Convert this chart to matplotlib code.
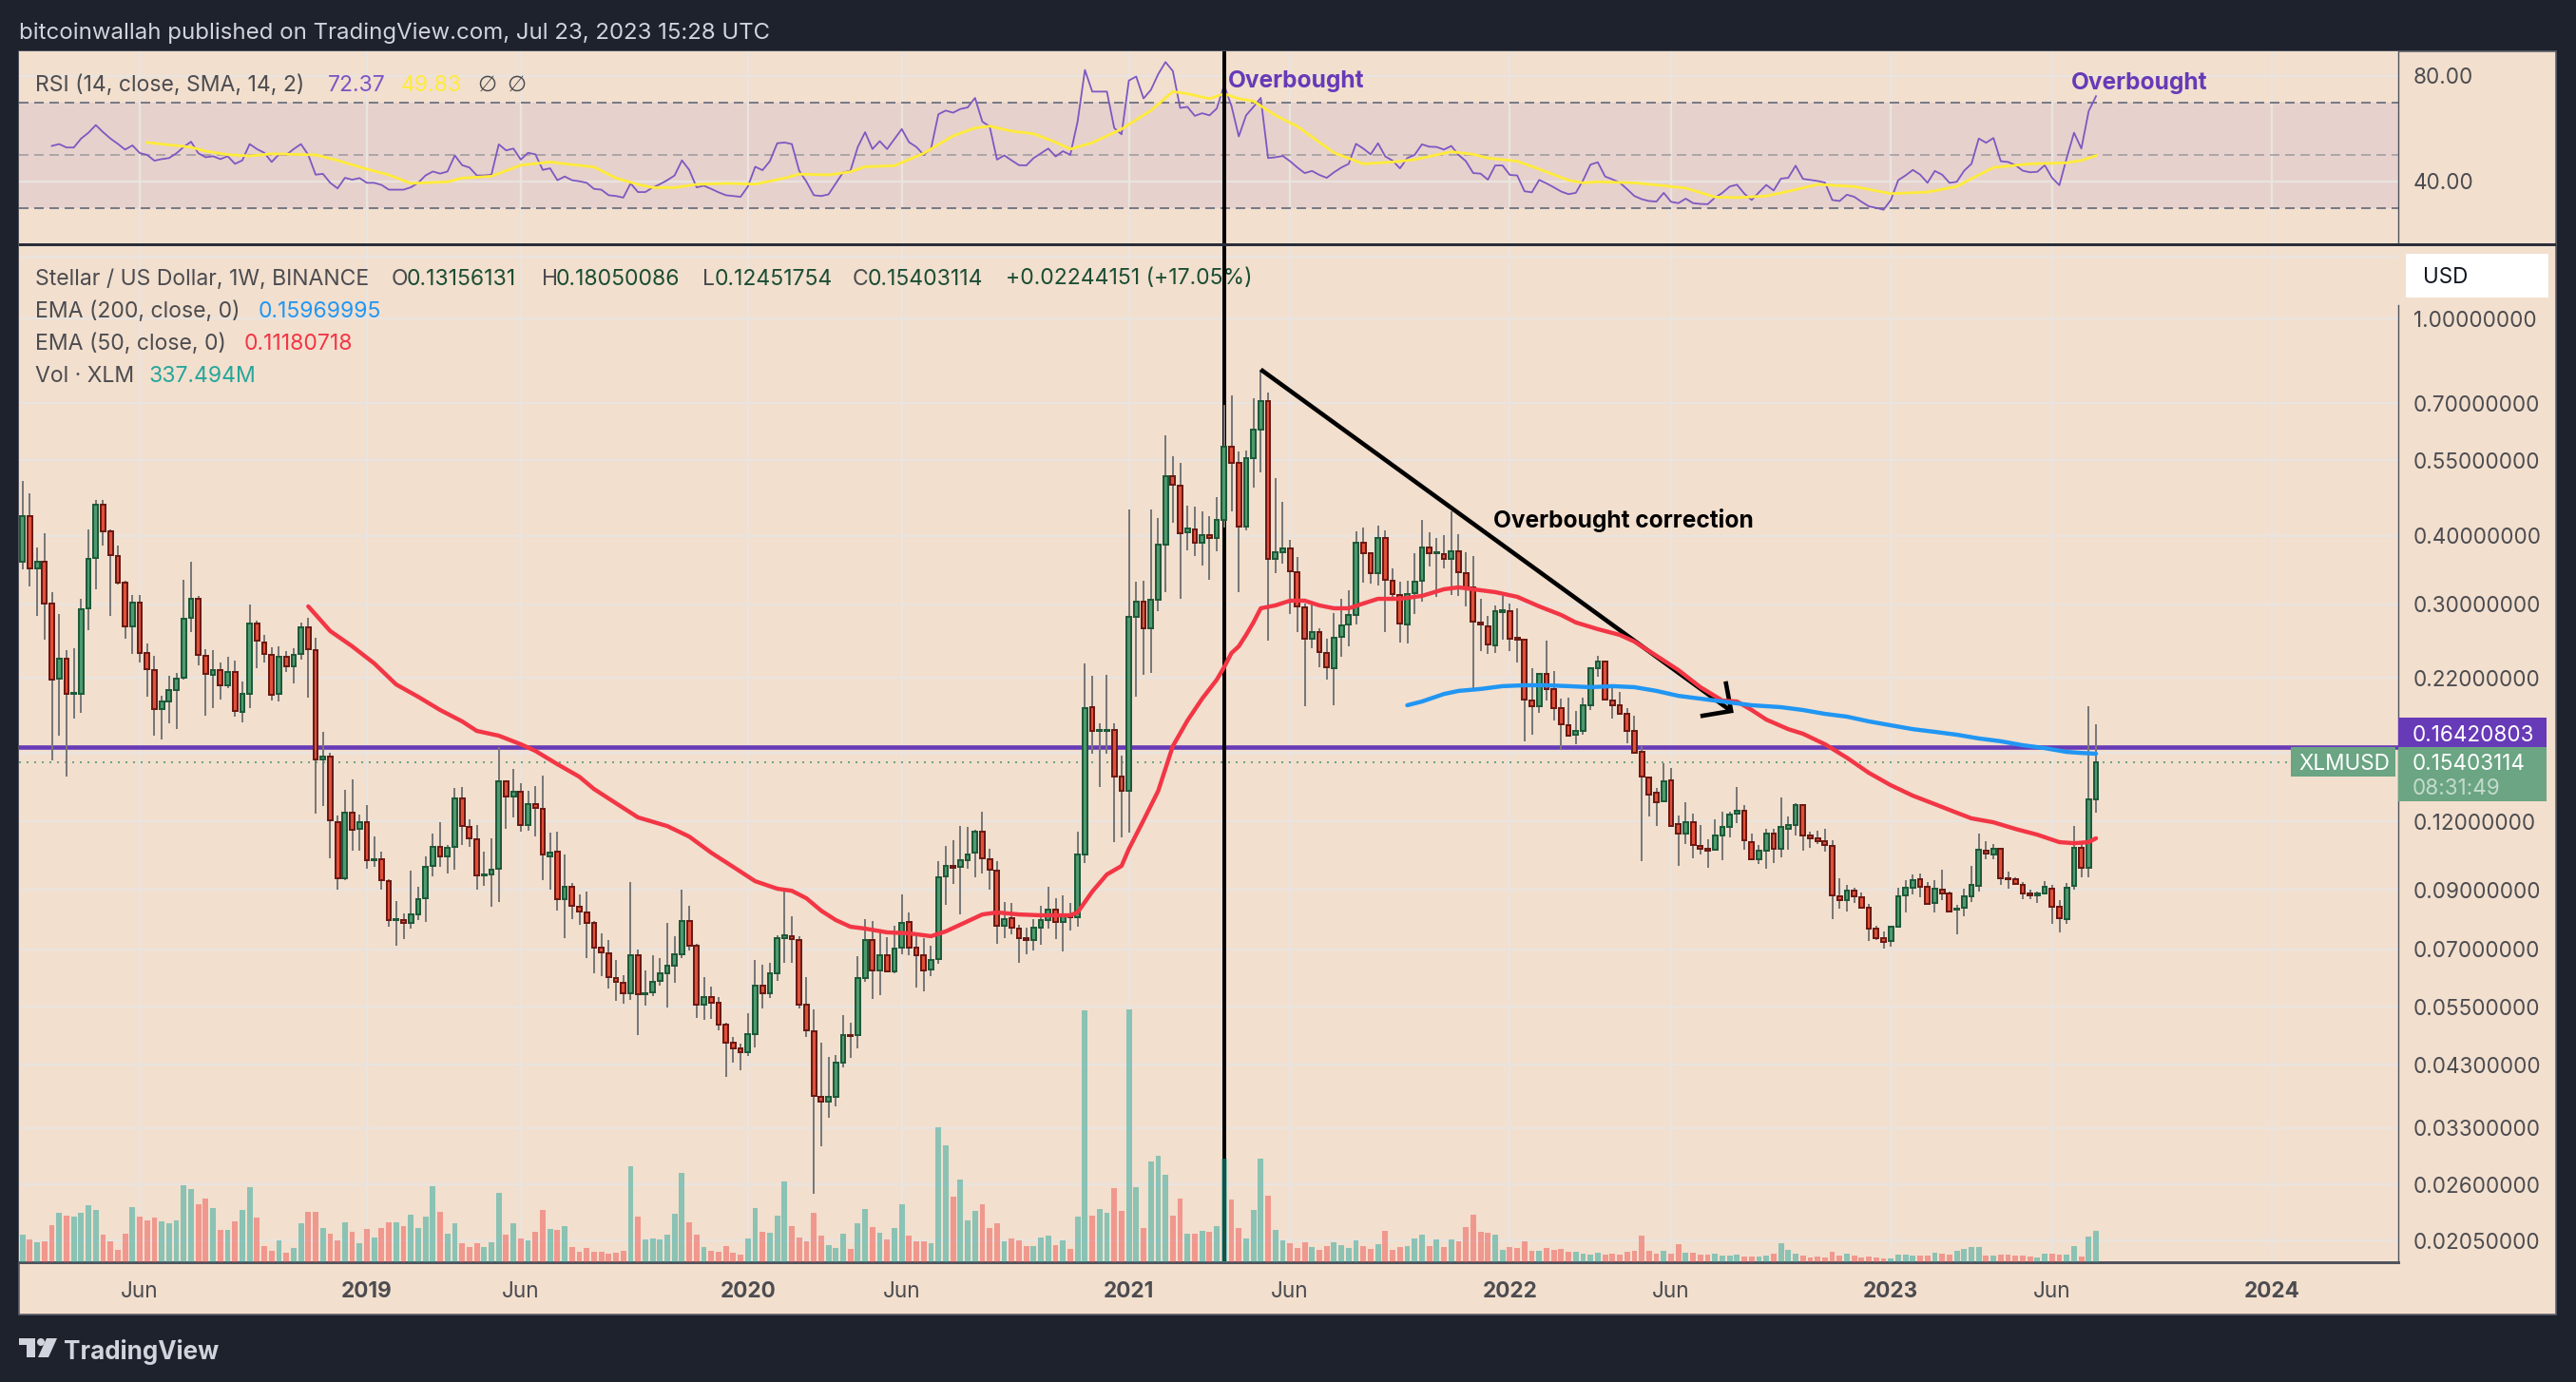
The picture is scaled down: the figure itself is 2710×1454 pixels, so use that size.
import matplotlib
matplotlib.use("Agg")
import numpy as np
import matplotlib.pyplot as plt
from matplotlib.patches import Rectangle, Polygon, Circle
from matplotlib.ticker import NullLocator
from matplotlib.transforms import Affine2D

opens = [.3589,.4350,.3489,.3589,.3008,.2191,.2384,.2054,.2054,.2948,
.3646,.4564,.4079,.3676,.3285,.2732,.3020,.2441,.2272,.1928,
.1990,.2089,.2200,.2833,.3068,.2413,.2226,.2272,.2131,.2254,
.1904,.2054,.2765,.2552,.2422,.2054,.2403,.2308,.2432,.2721,
.2471,.1559,.1577,.1196,.0944,.1245,.1163,.1196,.1019,.1023,
.0933,.0792,.0792,.0782,.0811,.0868,.0995,.1078,.1035,.1078,
.1322,.1172,.1113,.0956,.0960,.0983,.1421,.1333,.1360,.1182,
.1291,.1265,.1035,.1056,.0865,.0911,.0838,.0818,.0782,.0705,
.0688,.0620,.0608,.0581,.0683,.0579,.0584,.0612,.0632,.0653,
.0685,.0788,.0710,.0554,.0572,.0558,.0510,.0472,.0461,.0454,
.0489,.0600,.0581,.0632,.0734,.0740,.0727,.0554,.0495,.0376,
.0368,.0376,.0434,.0488,.0488,.0620,.0727,.0640,.0683,.0637,
.0705,.0785,.0705,.0683,.0642,.0672,.0952,.0995,.0991,.1019,
.1052,.1149,.1023,.0975,.0773,.0798,.0764,.0734,.0727,.0767,
.0792,.0827,.0785,.0811,.0801,.1044,.1943,.1758,.1758,.1765,
.1449,.1365,.2844,.3032,.2711,.3056,.3857,.5148,.4945,.4063,
.4112,.3888,.4015,.3967,.4280,.5830,.5447,.4162,.5555,.6265,
.7066,.3631,.3735,.3796,.3434,.2960,.2593,.2668,.2441,.2290,
.2615,.2754,.2866,.3888,.3720,.3420,.3967,.3311,.3118,.2754,
.3144,.3311,.3811,.3720,.3705,.3631,.3751,.3420,.3220,.2777,
.2732,.2522,.2901,.2913,.2604,.2583,.1998,.1951,.2235,.2098,
.1935,.1800,.1730,.1758,.1959,.2290,.2355,.1998,.1959,.1889,
.1758,.1609,.1444,.1355,.1306,.1429,.1187,.1140,.1196,.1082,
.1069,.1065,.1130,.1172,.1240,.1255,.1100,.1023,.1060,.1140,
.1069,.1163,.1182,.1285,.1130,.1117,.1104,.1082,.0875,.0861,
.0896,.0872,.0834,.0764,.0734,.0725,.0770,.0879,.0907,.0940,
.0911,.0851,.0900,.0886,.0827,.0834,.0875,.0915,.1060,.1044,
.1069,.0944,.0940,.0918,.0886,.0879,.0886,.0904,.0838,.0795,
.0915,.1073,.0987,.13156]

highs = [.5046,.4789,.3811,.4047,.3156,.2878,.2471,.2491,.3068,.4112,
.4657,.4657,.4112,.3842,.3311,.3118,.3118,.2542,.2413,.2038,
.2218,.2244,.3325,.3589,.3106,.2481,.2471,.2346,.2403,.2365,
.2165,.2996,.2799,.2635,.2501,.2511,.2461,.2491,.2777,.2833,
.2604,.1751,.1602,.1230,.1371,.1432,.1235,.1285,.1126,.1056,
.0940,.0858,.0815,.0975,.0911,.1035,.1140,.1196,.1087,.1382,
.1387,.1211,.1182,.1056,.1117,.1642,.1429,.1498,.1410,.1365,
.1393,.1456,.1145,.1149,.1044,.0926,.0882,.0893,.0788,.0749,
.0727,.0669,.0627,.0930,.0699,.0640,.0683,.0674,.0782,.0740,
.0900,.0841,.0716,.0623,.0598,.0572,.0514,.0484,.0470,.0534,
.0669,.0656,.0661,.0743,.0893,.0805,.0740,.0623,.0543,.0472,
.0445,.0448,.0530,.0514,.0680,.0795,.0788,.0755,.0737,.0773,
.0882,.0818,.0746,.0734,.0710,.1016,.1082,.1109,.1177,.1172,
.1158,.1250,.1069,.1016,.0854,.0851,.0776,.0767,.0795,.0841,
.0911,.0868,.0879,.0851,.1149,.2334,.2218,.1815,.2226,.1815,
.1584,.4474,.3298,.3311,.4474,.4316,.6117,.5600,.5447,.4546,
.4528,.4439,.4350,.4713,.6948,.7240,.5714,.5737,.7150,.8066,
.7326,.5107,.4620,.3936,.3660,.3008,.3008,.2711,.2593,.2890,
.3068,.3181,.4079,.4145,.3720,.4179,.4096,.3490,.3298,.3311,
.3720,.4280,.4063,.3967,.4015,.4439,.4031,.3735,.3676,.3068,
.2855,.2985,.3106,.3008,.2948,.2593,.2290,.2244,.2573,.2262,
.2014,.2022,.1912,.2022,.2300,.2413,.2365,.2114,.2072,.1935,
.1874,.1649,.1444,.1382,.1534,.1503,.1230,.1301,.1240,.1182,
.1113,.1211,.1250,.1250,.1387,.1285,.1140,.1087,.1163,.1163,
.1327,.1225,.1296,.1291,.1149,.1153,.1163,.1109,.0944,.0918,
.0907,.0889,.0848,.0773,.0755,.0773,.0907,.0937,.0960,.0964,
.0930,.0937,.0979,.0893,.0844,.0904,.0995,.1140,.1104,.1091,
.1073,.0971,.0948,.0930,.0900,.0893,.0933,.0918,.0861,.0926,
.1177,.1091,.1951,.18050]

lows = [.3475,.3233,.2855,.2583,.1552,.1723,.1449,.1852,.1897,.2689,
.3194,.3842,.2855,.3259,.2593,.2432,.2346,.2030,.1723,.1696,
.1815,.1771,.2182,.2668,.2317,.1874,.1935,.2006,.2106,.1867,
.1822,.1935,.2290,.2346,.1998,.1990,.2254,.2147,.2375,.2022,
.1240,.1280,.1027,.0900,.0937,.1060,.1060,.0983,.0991,.0900,
.0770,.0710,.0731,.0764,.0792,.0785,.0952,.0991,.0964,.0979,
.1087,.1078,.0900,.0915,.0838,.0854,.1163,.1221,.1149,.1153,
.1126,.0937,.0900,.0824,.0735,.0795,.0776,.0674,.0632,.0625,
.0593,.0563,.0556,.0565,.0488,.0552,.0575,.0600,.0548,.0608,
.0674,.0697,.0524,.0520,.0522,.0497,.0409,.0434,.0420,.0447,
.0463,.0545,.0570,.0612,.0661,.0661,.0545,.0484,.0250,.0305,
.0344,.0361,.0425,.0443,.0461,.0610,.0567,.0577,.0635,.0632,
.0685,.0683,.0595,.0586,.0625,.0658,.0844,.0922,.0811,.0983,
.0948,.0964,.0900,.0716,.0734,.0746,.0661,.0685,.0697,.0713,
.0764,.0731,.0694,.0758,.0770,.1007,.1596,.1387,.1596,.1099,
.1122,.1145,.2030,.2226,.2244,.2913,.3156,.4229,.3068,.3768,
.3676,.3531,.3325,.3751,.4145,.4439,.3156,.4096,.4906,.5232,
.2573,.3420,.3560,.2878,.2668,.1951,.2491,.2300,.2182,.1959,
.2403,.2511,.2754,.3285,.3272,.3246,.2668,.3044,.2552,.2542,
.2878,.3032,.3517,.3094,.3489,.3118,.3106,.2972,.2081,.2461,
.2432,.2441,.2583,.2461,.2346,.1683,.1730,.1897,.1998,.1837,
.1622,.1716,.1662,.1730,.1920,.2209,.1998,.1852,.1881,.1668,
.1596,.1014,.1225,.1177,.1306,.1177,.0995,.1091,.1027,.1044,
.0987,.1065,.1019,.1122,.1192,.1065,.1023,.1003,.0983,.1007,
.1031,.1065,.1130,.1060,.1073,.1091,.1056,.0795,.0831,.0821,
.0851,.0831,.0725,.0729,.0702,.0708,.0767,.0818,.0882,.0872,
.0844,.0818,.0861,.0821,.0746,.0805,.0854,.0893,.1023,.1023,
.0918,.0904,.0918,.0865,.0865,.0851,.0886,.0779,.0752,.0779,
.0900,.0948,.0948,.12452]

closes = [.4350,.3489,.3589,.3008,.2182,.2384,.2054,.2062,.2936,.3631,
.4564,.4079,.3690,.3285,.2732,.3020,.2441,.2281,.1928,.1990,
.2089,.2191,.2822,.3068,.2422,.2235,.2272,.2131,.2254,.1912,
.2054,.2765,.2573,.2432,.2046,.2403,.2308,.2422,.2721,.2481,
.1559,.1577,.1206,.0944,.1245,.1158,.1196,.1019,.1023,.0937,
.0792,.0795,.0782,.0811,.0865,.0991,.1078,.1035,.1073,.1322,
.1177,.1117,.0956,.0960,.0979,.1421,.1333,.1360,.1182,.1291,
.1270,.1044,.1052,.0865,.0911,.0841,.0821,.0782,.0705,.0690,
.0623,.0610,.0581,.0683,.0579,.0581,.0610,.0632,.0653,.0685,
.0788,.0710,.0554,.0572,.0558,.0510,.0472,.0461,.0454,.0489,
.0600,.0581,.0632,.0734,.0743,.0731,.0554,.0497,.0377,.0368,
.0376,.0434,.0488,.0486,.0620,.0727,.0640,.0683,.0637,.0702,
.0782,.0705,.0683,.0640,.0669,.0948,.0995,.0987,.1019,.1044,
.1149,.1027,.0979,.0773,.0795,.0767,.0734,.0727,.0767,.0792,
.0827,.0785,.0811,.0801,.1044,.1935,.1758,.1765,.1765,.1449,
.1365,.2844,.3032,.2711,.3056,.3857,.5148,.4965,.4047,.4129,
.3888,.4015,.3967,.4280,.5830,.5447,.4162,.5555,.6265,.7066,
.3631,.3735,.3796,.3447,.2972,.2593,.2668,.2451,.2300,.2604,
.2743,.2866,.3888,.3720,.3420,.3967,.3325,.3131,.2765,.3131,
.3298,.3811,.3720,.3735,.3631,.3751,.3434,.3220,.2788,.2754,
.2532,.2913,.2925,.2593,.2583,.2006,.1951,.2235,.2098,.1935,
.1807,.1723,.1758,.1959,.2290,.2355,.2006,.1959,.1889,.1758,
.1602,.1449,.1343,.1301,.1421,.1177,.1140,.1196,.1087,.1069,
.1060,.1130,.1172,.1235,.1255,.1109,.1023,.1060,.1140,.1069,
.1172,.1182,.1285,.1130,.1117,.1104,.1087,.0879,.0861,.0896,
.0875,.0834,.0764,.0734,.0722,.0770,.0875,.0907,.0937,.0911,
.0848,.0904,.0886,.0821,.0831,.0875,.0918,.1065,.1048,.1069,
.0944,.0940,.0922,.0886,.0879,.0886,.0911,.0838,.0798,.0907,
.1073,.0987,.1315,.15403]

volumes = [300,249,218,228,402,535,505,494,535,617,566,300,228,136,310,597,494,454,484,443,
423,454,832,791,627,689,587,351,351,443,566,812,484,177,126,239,106,157,423,546,
546,372,310,239,433,331,208,361,269,372,433,433,392,515,372,494,822,546,310,423,
208,167,208,167,218,750,300,423,259,239,331,566,361,351,392,167,116,157,116,116,
95,106,126,1037,494,249,259,249,300,525,965,433,300,167,126,116,177,106,85,259,
587,331,321,505,873,392,269,228,535,290,188,157,310,147,423,576,382,321,249,372,
627,290,228,228,208,1456,1262,709,893,454,556,627,372,423,228,259,239,177,177,269,
290,188,239,147,494,2714,505,576,535,801,556,2725,812,372,1088,1149,945,505,689,310,
310,341,331,392,1118,679,372,259,566,1118,720,351,239,208,157,218,167,136,177,215,
184,153,235,174,143,194,338,133,164,174,256,297,174,246,164,246,225,379,512,327,
317,297,133,164,153,225,123,123,153,133,143,113,113,92,82,102,82,92,82,113,
123,286,123,92,123,92,194,102,102,82,82,92,72,72,82,61,61,61,72,92,
205,133,92,72,51,61,51,113,72,92,72,51,61,51,41,41,82,82,72,72,
72,102,92,82,123,143,164,164,72,72,82,82,72,72,61,51,92,92,82,82,
174,61,276,337.494]

rsi = [53.5,54.2,52.9,52.9,56.3,58.5,61.4,58.7,56.3,54.3,52.1,53.7,50.8,50.1,47.9,48.5,48.9,50.7,53.1,55.1,
50.7,49.2,49.6,48.5,49.6,46.7,48.0,54.2,52.3,50.9,47.4,50.3,50.1,52.3,54.2,50.1,42.6,42.9,39.5,37.4,
41.4,40.7,41.3,39.5,39.5,38.7,36.9,36.9,36.9,37.8,39.5,42.3,43.8,43.0,43.8,49.9,46.2,45.3,42.3,42.3,
42.6,54.1,51.8,52.5,48.3,50.9,50.3,44.4,45.0,40.5,41.9,40.5,40.1,39.5,37.2,36.9,34.8,34.5,33.9,39.3,
36.0,36.0,37.7,39.0,40.5,42.3,48.0,44.4,37.8,38.4,37.2,35.9,34.8,34.5,34.2,38.1,45.6,44.3,47.7,54.5,
54.8,54.2,44.1,39.9,34.8,34.5,35.1,39.3,43.5,44.1,53.1,58.7,52.3,55.3,52.3,56.1,59.9,54.9,53.1,50.1,
52.5,65.5,66.9,66.1,67.5,68.1,71.7,62.7,60.9,48.3,49.9,48.0,46.2,46.1,48.9,50.7,52.5,49.5,51.5,50.1,
62.7,82.3,74.1,74.1,74.1,60.3,57.9,78.3,79.8,71.5,74.7,80.7,85.3,81.9,67.9,68.3,64.9,65.9,65.1,67.7,
76.5,68.7,57.1,65.1,68.3,71.7,48.9,49.2,49.7,47.7,45.3,43.2,44.0,42.5,41.4,
43.5,45.3,46.7,54.3,52.5,50.3,54.5,49.5,47.9,45.0,48.9,50.1,54.1,53.2,53.1,52.1,53.5,50.1,47.7,43.2,
43.0,40.7,46.1,46.1,42.5,42.3,36.3,35.9,40.6,39.3,37.8,36.2,35.2,35.7,40.5,46.4,47.3,41.9,40.8,39.6,
37.1,34.5,33.3,32.6,32.4,35.7,32.3,31.8,33.5,31.8,31.5,31.4,33.9,35.7,38.1,38.8,35.4,33.0,35.9,38.7,
36.6,41.1,41.4,46.0,41.0,40.6,40.2,39.6,33.0,32.6,35.0,34.2,32.3,30.6,30.0,29.3,33.0,40.5,42.3,44.4,
42.6,39.5,44.0,42.6,39.5,39.9,44.1,46.7,56.3,54.7,56.5,47.7,47.4,46.2,44.1,43.5,43.7,46.2,41.4,38.6,
48.9,58.5,52.5,66.7,72.37]

rsi_ma_idx = [17,21,23,25,28,31,34,37,40,43,47,50,53,58,60,64,68,72,75,78,81,84,86,89,92,96,100,104,106,110,
113,115,119,123,127,130,132,135,138,141,143,146,150,154,157,159,162,164,166,168,171,174,179,183,187,190,195,198,200,204,
207,211,213,215,220,224,227,231,234,238,241,245,250,255,260,264,266,269,274,279,281,283]
rsi_ma = [54.8,53.6,53.0,51.5,50.2,49.7,50.5,50.3,50.1,48.0,44.7,42.5,39.3,39.9,41.3,42.0,46.2,47.4,46.4,45.5,41.3,38.9,37.7,37.7,38.9,39.3,39.0,41.3,42.8,42.5,
43.7,45.6,46.0,50.7,57.3,60.3,61.0,59.1,58.1,54.9,52.3,54.7,59.9,66.9,74.1,73.3,71.4,73.3,71.4,70.5,65.1,60.9,50.9,46.7,47.4,48.3,51.3,50.3,48.9,47.7,
44.7,40.5,39.5,39.9,39.5,38.4,37.5,34.1,33.9,34.5,36.3,38.9,38.1,35.4,36.0,38.1,41.1,45.3,46.7,47.1,48.0,49.83]

ema50_idx = [39,42,45,48,51,54,57,60,62,65,68,70,73,76,78,81,84,88,91,94,97,100,103,105,107,109,111,113,115,118,
121,124,126,129,131,133,136,139,143,144,146,148,150,151,153,155,157,159,161,163,164,165,166,167,168,169,171,173,175,177,
179,181,183,185,188,191,194,196,198,201,204,207,210,212,215,218,220,223,226,229,232,234,236,238,241,243,246,249,252,255,
258,261,264,266,269,272,275,278,280,282,283]
ema50 = [.2972,.2678,.2511,.2337,.2138,.2030,.1920,.1830,.1758,.1723,.1662,.1616,.1528,.1449,.1376,.1296,.1221,.1177,.1126,.1052,.0991,.0933,.0904,.0896,.0868,.0824,.0792,.0770,.0764,.0752,
.0749,.0740,.0755,.0788,.0811,.0818,.0811,.0808,.0808,.0818,.0893,.0960,.0995,.1069,.1206,.1365,.1649,.1837,.2014,.2182,.2300,.2441,.2511,.2635,.2777,.2948,.2984,.3044,.3044,.2984,
.2948,.2948,.3008,.3068,.3068,.3106,.3194,.3220,.3194,.3156,.3094,.2972,.2866,.2777,.2700,.2635,.2562,.2413,.2272,.2114,.1998,.1990,.1920,.1844,.1771,.1737,.1662,.1570,.1473,.1398,
.1338,.1291,.1245,.1216,.1196,.1163,.1135,.1100,.1095,.1100,.11180718]

ema200_idx = [189,191,194,196,199,202,205,208,211,214,217,220,223,226,229,232,236,240,243,246,249,252,255,258,261,264,267,270,273,276,279,281,283]
ema200 = [.1959,.1990,.2054,.2081,.2098,.2123,.2131,.2131,.2123,.2114,.2123,.2114,.2081,.2038,.2014,.1990,.1959,.1943,.1920,.1889,.1867,.1830,.1800,.1771,.1751,.1730,.1703,.1683,.1655,.1635,.1609,.1602,.15969995]

time_tick_idx = [16,47,68,99,120,151,173,203,225,255,277,307]
time_tick_labels = ["Jun","2019","Jun","2020","Jun","2021","Jun","2022","Jun","2023","Jun","2024"]
price_ticks = [1.3,1.0,0.7,0.55,0.4,0.3,0.22,0.16,0.12,0.09,0.07,0.055,0.043,0.033,0.026,0.0205]
hidden_price_ticks = [1.3,0.16]
rsi_ticks = [80,40]
resistance = 0.16420803
last_close = 0.15403114
signal_idx = 164
trend_x = [169,233.2]
trend_y = [0.8066,0.1912]
arrow_arm_x = [232.5,233.2,229.3]
arrow_arm_y = [0.2147,0.1912,0.1874]

W, H = 2710, 1454
BG = "#f2dfce"
DARK = "#1e222d"
GRID = "#e9e4df"
TXT = "#4c4c50"
plt.rcParams["font.family"] = ["Inter", "Roboto", "DejaVu Sans"]

def pt(p):
    return p * 72 / 100

fig = plt.figure(figsize=(W / 100, H / 100), dpi=100, facecolor=DARK)
px = Affine2D().scale(1 / W, -1 / H).translate(0, 1) + fig.transFigure

def box(x0, y0, x1, y1):
    return [x0 / W, 1 - y1 / H, (x1 - x0) / W, (y1 - y0) / H]

fig.add_artist(Rectangle((20, 54), 2669, 1329, transform=px, facecolor=BG, edgecolor="#5d606b", linewidth=1.2, zorder=-5))

ax_rsi = fig.add_axes(box(20, 54, 2523, 257), facecolor=BG)
ax = fig.add_axes(box(20, 257, 2523, 1328), facecolor=BG)
ax_vol = fig.add_axes(box(20, 257, 2523, 1328), sharex=ax, zorder=1)
ax_vol.patch.set_visible(False)
ax_vol.set_axis_off()

x = np.arange(len(closes))
o, h, l, c = map(np.array, (opens, highs, lows, closes))
up = c >= o
XMIN, XMAX = -0.48, 324.25

# main pane
ax.set_yscale("log")
ax.set_xlim(XMIN, XMAX)
ax.set_ylim(0.01872, 1.3675)
ax.yaxis.set_minor_locator(NullLocator())
ax.set_yticks(price_ticks)
ax.set_yticklabels(["" if t in hidden_price_ticks else f"{t:.8f}" for t in price_ticks])
ax.yaxis.tick_right()
ax.set_xticks(time_tick_idx)
ax.set_xticklabels(time_tick_labels)
ax.tick_params(axis="both", length=0, labelcolor=TXT, labelsize=pt(22.5))
ax.tick_params(axis="y", pad=pt(16))
ax.tick_params(axis="x", pad=pt(20))
for lab, s in zip(ax.get_xticklabels(), time_tick_labels):
    if s != "Jun":
        lab.set_fontweight("bold")
ax.grid(True, color=GRID, linewidth=pt(2.4), zorder=0)
ax.set_axisbelow(True)
ax.axhline(resistance, color="#673ab7", linewidth=pt(4.6), zorder=1.5)
ax.axhline(last_close, color="#6ba583", linewidth=pt(2), linestyle=(0, (1, 3)), zorder=1.4)
ax.axvline(signal_idx, color="black", linewidth=pt(4), zorder=1.8)
ax.vlines(x, l, h, color="#787878", linewidth=pt(2), zorder=2)
ax.bar(x[up], (c - o)[up], bottom=o[up], width=0.62, color="#4f9a70", edgecolor="#1e5a3a", linewidth=pt(2), zorder=2.2)
ax.bar(x[~up], (o - c)[~up], bottom=c[~up], width=0.62, color="#e0503a", edgecolor="#6b1a14", linewidth=pt(2), zorder=2.2)
ax.plot(trend_x, trend_y, color="black", linewidth=pt(4.6), zorder=2.6, solid_capstyle="butt")
ax.plot(arrow_arm_x, arrow_arm_y, color="black", linewidth=pt(4.6), zorder=2.6, solid_joinstyle="miter")
ax.plot(ema50_idx, ema50, color="#f23645", linewidth=pt(4.4), zorder=3, solid_capstyle="round")
ax.plot(ema200_idx, ema200, color="#2196f3", linewidth=pt(4.4), zorder=3.1, solid_capstyle="round")
for name, sp in ax.spines.items():
    sp.set_visible(False)
ax.spines["right"].set_visible(True)
ax.spines["right"].set_color("#50535e")
ax.spines["right"].set_linewidth(pt(1.4))
ax.spines["right"].set_bounds(0.01872, 1.058)
ax.spines["bottom"].set_visible(True)
ax.spines["bottom"].set_color("#50535e")
ax.spines["bottom"].set_linewidth(pt(3))

# volume
ax_vol.set_ylim(0, 10956)
vol = np.array(volumes)
ax_vol.bar(x[up], vol[up], width=0.76, color="#26a69a", alpha=0.5)
ax_vol.bar(x[~up], vol[~up], width=0.76, color="#ef5350", alpha=0.5)

# RSI pane
ax_rsi.set_xlim(XMIN, XMAX)
ax_rsi.set_ylim(16.2, 89.37)
ax_rsi.set_yticks(rsi_ticks)
ax_rsi.set_yticklabels([f"{t:.2f}" for t in rsi_ticks])
ax_rsi.yaxis.tick_right()
ax_rsi.set_xticks(time_tick_idx)
ax_rsi.set_xticklabels([])
ax_rsi.tick_params(axis="both", length=0, labelcolor=TXT, labelsize=pt(22.5))
ax_rsi.tick_params(axis="y", pad=pt(16))
ax_rsi.grid(True, color=GRID, linewidth=pt(2.4), zorder=0)
ax_rsi.set_axisbelow(True)
ax_rsi.axhspan(30, 70, facecolor="#7e57c2", alpha=0.1, linewidth=0, zorder=0.5)
ax_rsi.axhline(70, color="#787b86", linewidth=pt(2), linestyle=(0, (5, 3)), zorder=1)
ax_rsi.axhline(30, color="#787b86", linewidth=pt(2), linestyle=(0, (5, 3)), zorder=1)
ax_rsi.axhline(50, color="#787b86", linewidth=pt(2), linestyle=(0, (5, 3)), alpha=0.5, zorder=1)
ax_rsi.axvline(signal_idx, color="black", linewidth=pt(4), zorder=3)
ax_rsi.plot(np.arange(len(closes) - len(rsi), len(closes)), rsi, color="#7e57c2", linewidth=pt(1.8), zorder=2)
ax_rsi.plot(rsi_ma_idx, rsi_ma, color="#ffeb3b", linewidth=pt(2.8), zorder=2.2)
for name, sp in ax_rsi.spines.items():
    sp.set_visible(False)
ax_rsi.spines["right"].set_visible(True)
ax_rsi.spines["right"].set_color("#50535e")
ax_rsi.spines["right"].set_linewidth(pt(1.4))

fig.add_artist(Rectangle((20, 255.5), 2669, 3, transform=px, facecolor="#2a2e39", edgecolor="none", zorder=4))

def txt(a, xp, yp, s, color=TXT, size=23, weight="normal", ha="left", z=1.6, family=None):
    t = a.text(xp, yp, s, transform=px, color=color, fontsize=pt(size), fontweight=weight, ha=ha, va="center_baseline", zorder=z, clip_on=False)
    if family:
        t.set_fontfamily(family)
    return t

# RSI legend
txt(ax_rsi, 37, 87, "RSI (14, close, SMA, 14, 2)")
txt(ax_rsi, 345, 87, "72.37", "#7e57c2")
txt(ax_rsi, 422, 87, "49.83", "#ffeb3b")
txt(ax_rsi, 502, 87, "\u2205", family="DejaVu Sans")
txt(ax_rsi, 533, 87, "\u2205", family="DejaVu Sans")
txt(ax_rsi, 1292, 83, "Overbought", "#673ab7", 24.5, "bold", z=4)
txt(ax_rsi, 2179, 85, "Overbought", "#673ab7", 24.5, "bold", z=4)

# main legend
VAL = "#1b4d33"
txt(ax, 37, 291, "Stellar / US Dollar, 1W, BINANCE")
for xl, xv, letter, value in [(412, 428, "O", "0.13156131"), (570, 585, "H", "0.18050086"), (739, 752, "L", "0.12451754"), (897, 913, "C", "0.15403114")]:
    txt(ax, xl, 291, letter)
    txt(ax, xv, 291, value, VAL)
txt(ax, 1058, 291, "+0.02244151 (+17.05%)", VAL)
txt(ax, 37, 325, "EMA (200, close, 0)")
txt(ax, 272, 325, "0.15969995", "#2196f3")
txt(ax, 37, 359, "EMA (50, close, 0)")
txt(ax, 257, 359, "0.11180718", "#f23645")
txt(ax, 37, 393, "Vol \u00b7 XLM")
txt(ax, 156, 393, "337.494M", "#26a69a")
txt(ax, 1571, 545, "Overbought correction", "black", 24.5, "bold", z=4)

# price scale overlays
def fbox(x0, y0, x1, y1, color, z=5):
    fig.add_artist(Rectangle((x0, y0), x1 - x0, y1 - y0, transform=px, facecolor=color, edgecolor="none", zorder=z))

def ftxt(xp, yp, s, color="white", size=22.5, weight="normal", alpha=1.0, ha="left"):
    t = fig.text(xp, yp, s, transform=px, color=color, fontsize=pt(size), fontweight=weight, alpha=alpha, ha=ha, va="center_baseline", zorder=6)
    return t

fbox(2531, 267, 2681, 313, "white")
ftxt(2549, 290, "USD", "#131722")
fbox(2523, 755, 2679, 786, "#673ab7")
ftxt(2538, 771, "0.16420803")
fbox(2523, 786, 2679, 843, "#6ba583")
ftxt(2538, 802, "0.15403114")
ftxt(2538, 828, "08:31:49", alpha=0.6)
fbox(2410, 786, 2520, 817, "#6ba583")
ftxt(2418, 802, "XLMUSD")

# header and footer
LIGHT = "#d1d4dc"
ftxt(20, 32, "bitcoinwallah published on TradingView.com, Jul 23, 2023 15:28 UTC", LIGHT, 24)
ftxt(67, 1420, "TradingView", LIGHT, 26, "bold")
fig.add_artist(Polygon([(20, 1408), (37, 1408), (37, 1428), (28, 1428), (28, 1415), (20, 1415)], closed=True, transform=px, facecolor=LIGHT, edgecolor="none", zorder=6))
fig.add_artist(Circle((43, 1412), 4, transform=px, facecolor=LIGHT, edgecolor="none", zorder=6))
fig.add_artist(Polygon([(49, 1408), (60, 1408), (51, 1428), (40, 1428)], closed=True, transform=px, facecolor=LIGHT, edgecolor="none", zorder=6))

fig.savefig("out.png", dpi=100, facecolor=DARK)
